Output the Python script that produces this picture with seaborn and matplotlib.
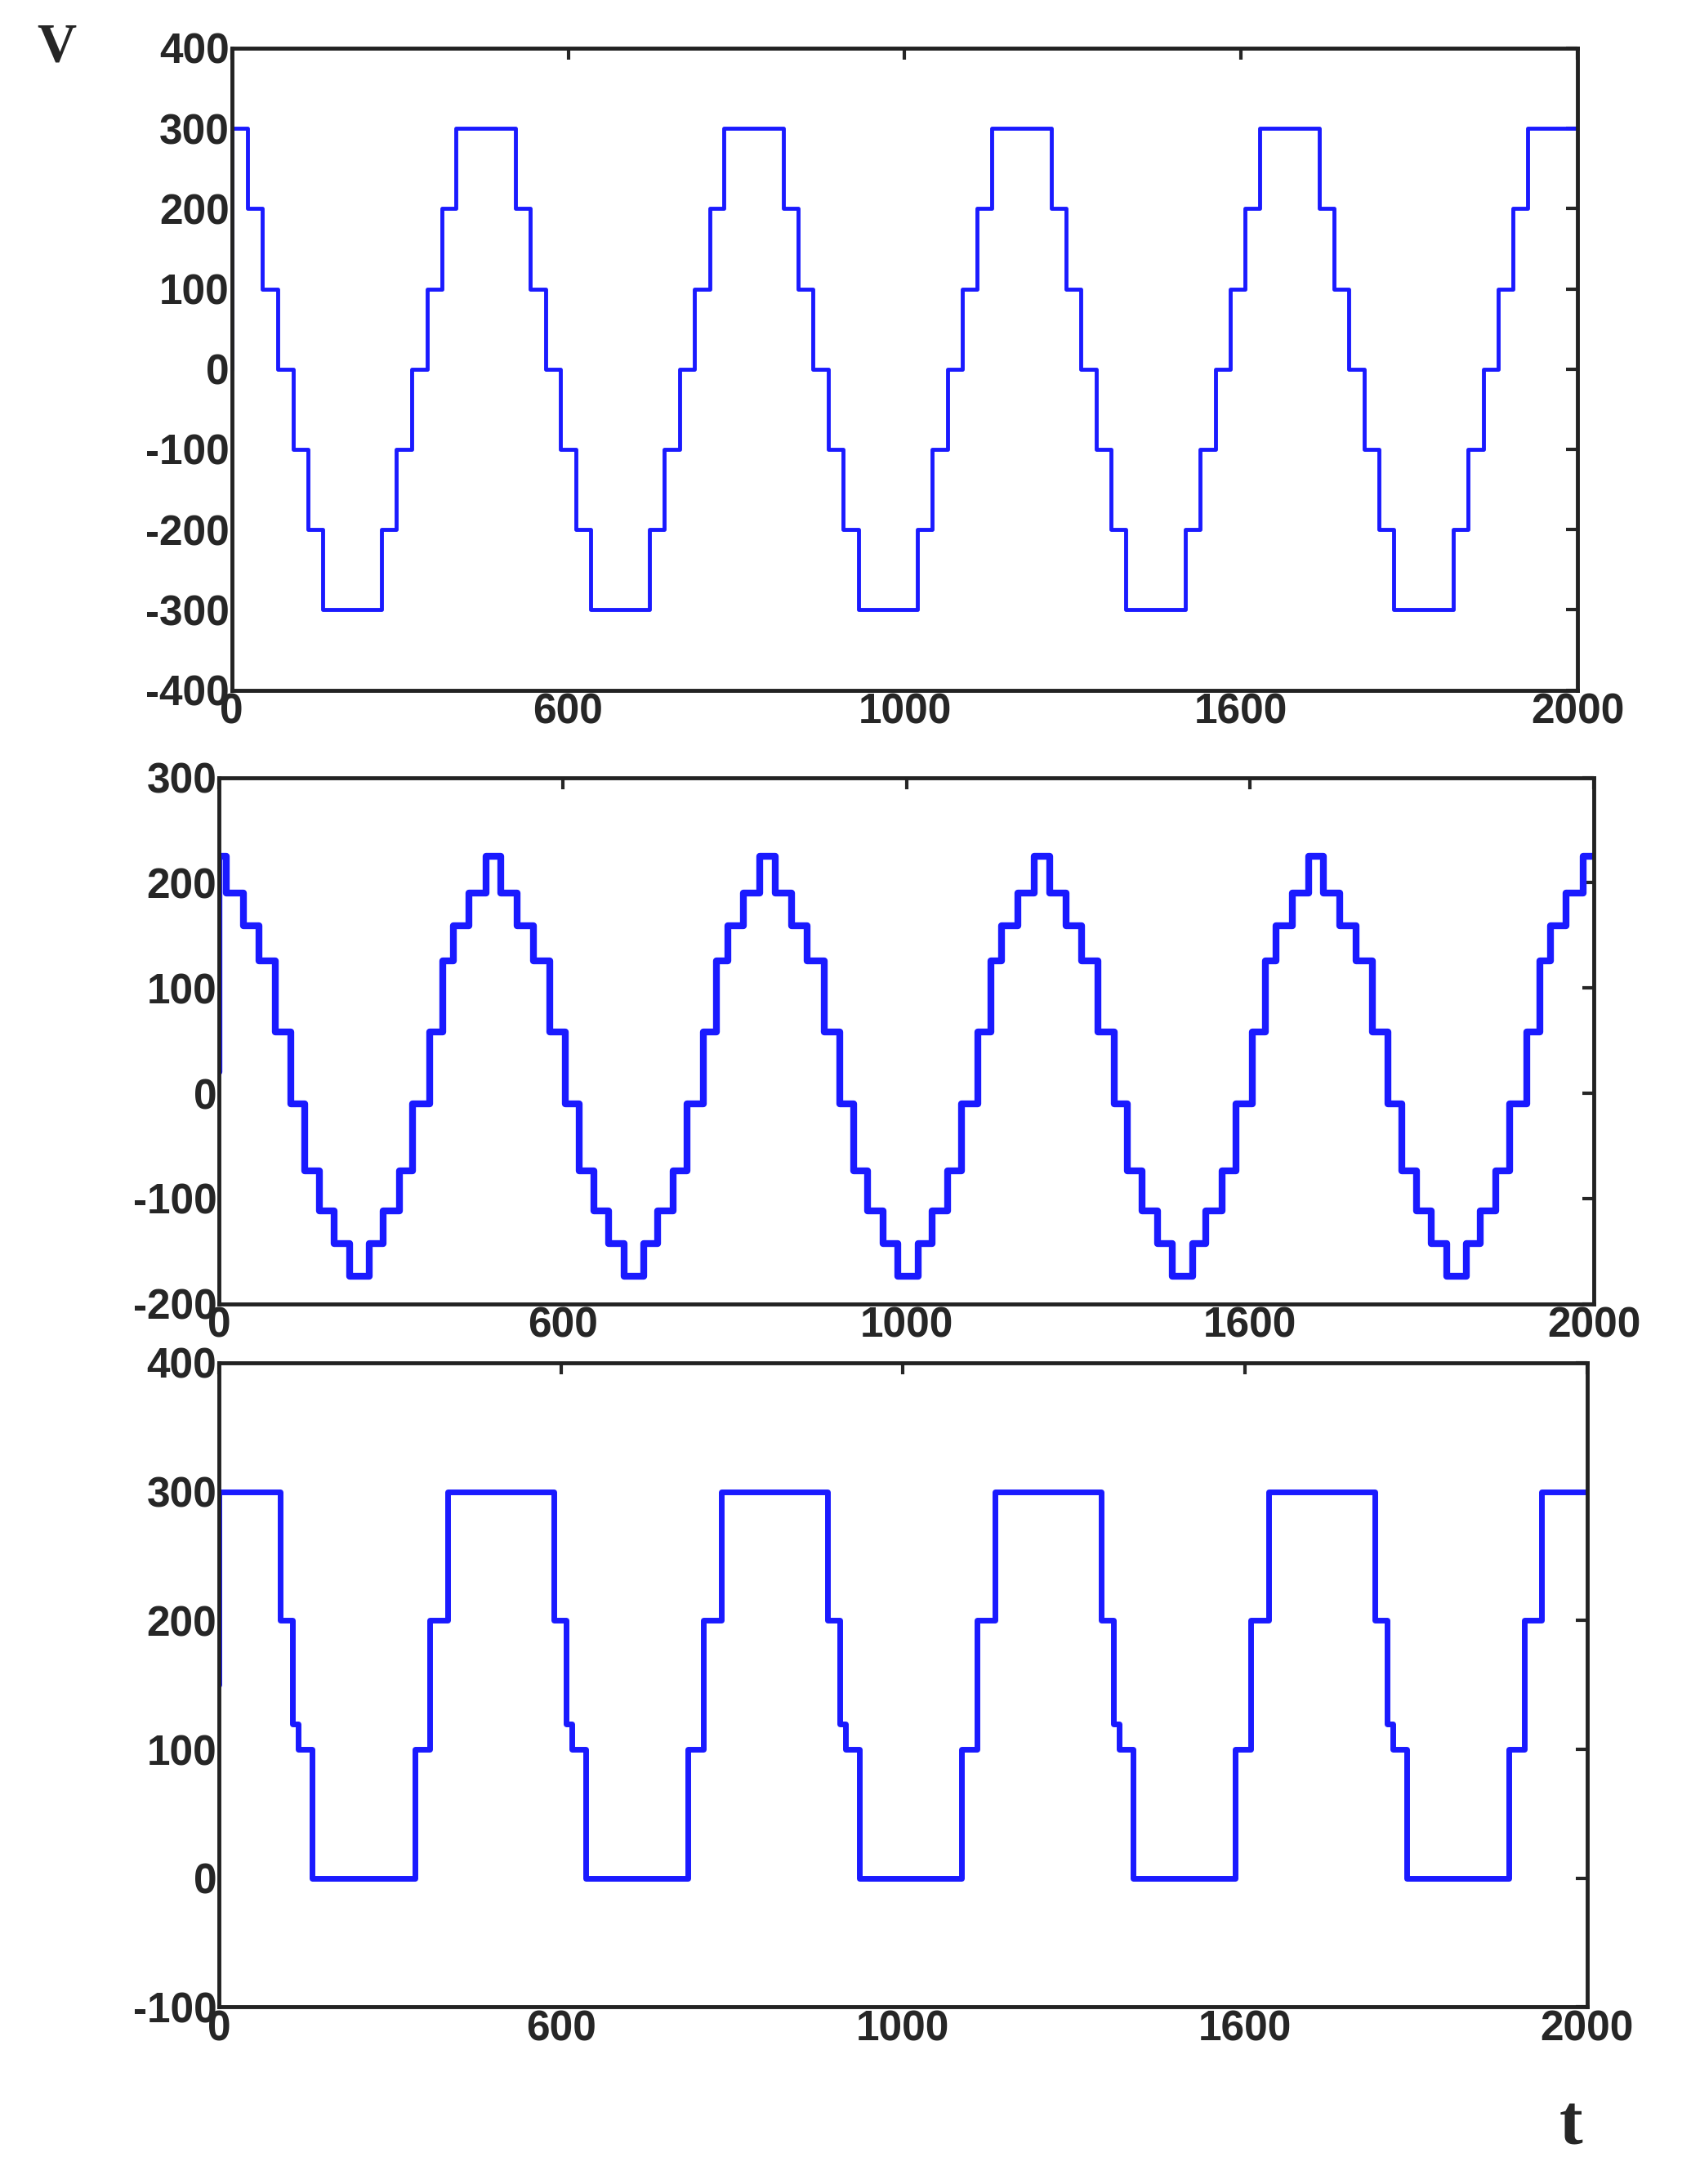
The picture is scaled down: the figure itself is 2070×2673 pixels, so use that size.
import numpy as np
import pandas as pd
import matplotlib
matplotlib.use("Agg")
import matplotlib.pyplot as plt
import seaborn as sns

# ---------------------------------------------------------------
# Step levels and durations for one period
# ---------------------------------------------------------------
PERIOD_START_TOP = -65
top_levels = [300, 200, 100, 0, -100, -200, -300, -200, -100, 0, 100, 200]
top_durs = [89, 22, 22, 23, 22, 22, 88, 22, 23, 22, 22, 21]

PERIOD_START_MID = -11
mid_levels = [225, 190, 159, 126, 58, -10, -74, -112, -143, -174,
              -143, -112, -74, -10, 58, 126, 159, 190]
mid_durs = [22, 24, 23, 24, 23, 20, 21, 22, 22, 29,
            20, 23, 20, 24, 19, 16, 23, 24]

PERIOD_START_BOT = -66
bot_levels = [300, 200, 120, 100, 0, 100, 200]
bot_durs = [156, 18, 8, 20, 150, 22, 26]

start_vals = [0, 20, 150]  # value at t=0 before the first jump
xtick_pos = [0, 500, 1000, 1500, 2000]
xtick_lab = ["0", "600", "1000", "1600", "2000"]


def build(levels, durs, t0, v0):
    t, v = [0.0], [v0]
    cur = t0
    while cur < 2000:
        for lv, d in zip(levels, durs):
            if cur + d > 0 and cur < 2000:
                t.append(max(cur, 0.0))
                v.append(lv)
            cur += d
    t.append(2000.0)
    v.append(v[-1])
    return pd.DataFrame({"t": t, "v": v})


sns.set_style("white")
plt.rcParams["font.family"] = ["Liberation Sans", "DejaVu Sans"]
plt.rcParams["axes.unicode_minus"] = False

fig = plt.figure(figsize=(20.7, 26.73), dpi=100)
boxes = [(0.137, 0.684, 0.796, 0.294),
         (0.1295, 0.403, 0.813, 0.241),
         (0.1295, 0.081, 0.809, 0.295)]
series = [build(top_levels, top_durs, PERIOD_START_TOP, start_vals[0]),
          build(mid_levels, mid_durs, PERIOD_START_MID, start_vals[1]),
          build(bot_levels, bot_durs, PERIOD_START_BOT, start_vals[2])]
ylims = [(-400, 400), (-200, 300), (-100, 400)]
lws = [3.5, 6, 5]

for box, df, yl, lw in zip(boxes, series, ylims, lws):
    ax = fig.add_axes(box)
    sns.lineplot(data=df, x="t", y="v", ax=ax, color="#1a1aff",
                 linewidth=lw, drawstyle="steps-post", estimator=None, sort=False)
    ax.set_xlim(0, 2000)
    ax.set_ylim(*yl)
    ax.set_yticks(np.arange(yl[0], yl[1] + 1, 100))
    ax.set_xticks(xtick_pos)
    ax.set_xticklabels(xtick_lab)
    ax.set_xlabel("")
    ax.set_ylabel("")
    for s in ax.spines.values():
        s.set_linewidth(3.5)
        s.set_color("#222222")
    ax.tick_params(direction="in", length=10, width=3, top=True, right=True,
                   labelsize=37, pad=2)
    for lab in ax.get_xticklabels() + ax.get_yticklabels():
        lab.set_fontweight("bold")

fig.text(0.022, 0.972, "V", fontsize=48, fontweight="bold", family="Liberation Serif")
fig.text(0.922, 0.018, "t", fontsize=62, fontweight="bold", family="Liberation Serif")

plt.savefig("out.png", dpi=100)
